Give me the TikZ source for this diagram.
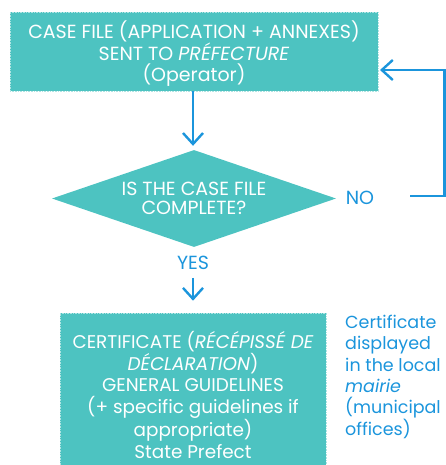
\documentclass[tikz,border=0pt]{standalone}
\usepackage{fontspec}
\setmainfont{Poppins}
\usetikzlibrary{shapes.geometric,arrows.meta}
\definecolor{teal1}{HTML}{4DC3C1}
\definecolor{blue1}{HTML}{1B95DC}
\begin{document}
\begin{tikzpicture}[x=1pt,y=-1pt,
  box/.style={fill=teal1,draw=white!55!teal1,densely dotted,line width=0.6pt,text=white,align=center,inner sep=0pt,font=\fontsize{19}{21.5}\selectfont},
  dia/.style={diamond,aspect=2.93,fill=teal1,text=white,align=center,inner sep=0pt,font=\fontsize{19}{19}\selectfont},
  arr/.style={draw=blue1,line width=2.4pt,-{Straight Barb[length=11pt,width=20pt,line width=2.4pt]}},
  lab/.style={text=blue1,inner sep=0pt,font=\fontsize{19}{21.5}\selectfont}]
\useasboundingbox (0,0) rectangle (446,465);
\node[box,minimum width=368,minimum height=79] (top) at (194,51.5) {};
\node[box,draw=none,fill=none] (toptext) at (194,54) {CASE FILE (APPLICATION + ANNEXES)\\SENT TO \textit{PRÉFECTURE}\\(Operator)};
\node[dia,minimum width=284,minimum height=97] (q) at (194,198.5) {IS THE CASE FILE\\COMPLETE?};
\node[lab] (no) at (360,198) {NO};
\node[lab] (yes) at (193,263) {YES};
\node[box,minimum width=266,minimum height=152] (cert) at (193,389) {};
\node[box,draw=none,fill=none,font=\fontsize{18.4}{21.6}\selectfont] (certtext) at (193,395) {CERTIFICATE (\textit{RÉCÉPISSÉ DE}\\\textit{DÉCLARATION})\\GENERAL GUIDELINES\\(+ specific guidelines if\\appropriate)\\State Prefect};
\node[lab,align=left,anchor=north west,font=\fontsize{17.5}{21.3}\selectfont] (side) at (345,315) {Certificate\\displayed\\in the local\\\textit{mairie}\\(municipal\\offices)};
\coordinate (fbstart) at (410,196);
\coordinate (fbend) at (380,70);
\draw[arr,shorten >=4pt] (top.south -| 193,0) -- (q.north -| 193,0);
\draw[arr,shorten >=12pt] (yes.south) ++(0,8) -- (cert.north -| 193,0);
\draw[arr] (fbstart) -- (444.5,196) |- (fbend);
\end{tikzpicture}
\end{document}
